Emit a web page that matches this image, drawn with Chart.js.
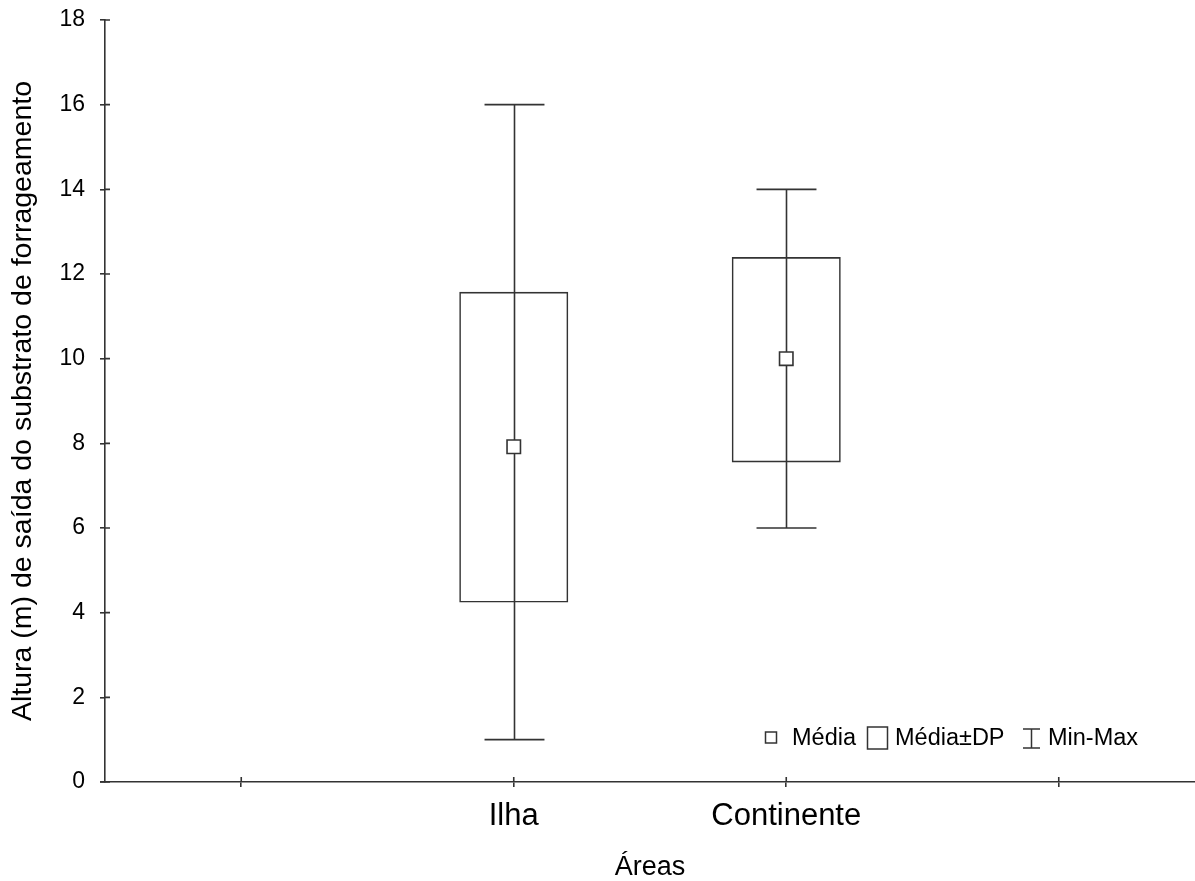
<!DOCTYPE html>
<html>
<head>
<meta charset="utf-8">
<script src="https://cdn.jsdelivr.net/npm/chart.js@4.4.1/dist/chart.umd.min.js"></script>
<style>
  html, body { margin: 0; padding: 0; background: #fff; }
  #wrap { width: 1195px; height: 881px; }
</style>
</head>
<body>
<div id="wrap"><canvas id="boxChart" width="1195" height="881"></canvas></div>
<script>
// areas (first and last slots are empty in the original figure)
const areas = ["", "Ilha", "Continente", ""];

const means = [null, 7.92, 10.0, null];
const sdLow = [null, 4.24, 7.55, null];
const sdHigh = [null, 11.58, 12.4, null];
const mins = [null, 1, 6, null];
const maxs = [null, 16, 14, null];

const yTicks = [0, 2, 4, 6, 8, 10, 12, 14, 16, 18];

const LINE = "#333";
const FONT = "'Liberation Sans', Arial, sans-serif";

const boxData =
  sdLow.map(
    (lo, i) => lo === null ? null : [lo, sdHigh[i]]
  );

// whiskers (min-max) under the boxes
const whiskerPlugin = {
  id: "whiskers",
  beforeDatasetsDraw(chart) {
    const ctx = chart.ctx;
    const xs = chart.scales.x;
    const ys = chart.scales.y;
    const half = xs.width / areas.length * 0.11;

    ctx.save();
    ctx.strokeStyle = LINE;
    ctx.lineWidth = 1.6;

    mins.forEach((mn, i) => {
      if (mn === null) return;
      const x = Math.round(xs.getPixelForValue(i)) + 0.5;
      const y1 = ys.getPixelForValue(mn);
      const y2 = ys.getPixelForValue(maxs[i]);
      ctx.beginPath();
      ctx.moveTo(x, y1);
      ctx.lineTo(x, y2);
      ctx.moveTo(x - half, y1);
      ctx.lineTo(x + half, y1);
      ctx.moveTo(x - half, y2);
      ctx.lineTo(x + half, y2);
      ctx.stroke();
    });
    ctx.restore();
  }
};

// inner half of the axis ticks + legend box
const extrasPlugin = {
  id: "extras",
  afterDraw(chart) {
    const ctx = chart.ctx;
    const xs = chart.scales.x;
    const ys = chart.scales.y;
    const area = chart.chartArea;

    ctx.save();
    ctx.strokeStyle = LINE;
    ctx.lineWidth = 1.6;
    ctx.beginPath();

    yTicks.forEach(v => {
      const y = ys.getPixelForValue(v);
      ctx.moveTo(area.left, y);
      ctx.lineTo(area.left + 5, y);
    });

    areas.forEach((a, i) => {
      const x = xs.getPixelForValue(i);
      ctx.moveTo(x, area.bottom);
      ctx.lineTo(x, area.bottom - 5);
    });

    // x axis sticks out a little to the left
    ctx.moveTo(area.left - 5, area.bottom);
    ctx.lineTo(area.left, area.bottom);
    ctx.stroke();

    // legend
    const ly = 738;
    ctx.lineWidth = 1.5;
    ctx.strokeRect(765.5, ly - 6, 11, 11);
    ctx.strokeRect(867.5, ly - 11, 20, 22);

    ctx.beginPath();
    ctx.moveTo(1031.5, ly - 9);
    ctx.lineTo(1031.5, ly + 10);
    ctx.moveTo(1023, ly - 9);
    ctx.lineTo(1040, ly - 9);
    ctx.moveTo(1023, ly + 10);
    ctx.lineTo(1040, ly + 10);
    ctx.stroke();

    ctx.fillStyle = "#000";
    ctx.font = "23.5px " + FONT;
    ctx.textBaseline = "middle";
    ctx.textAlign = "left";
    ctx.fillText("Média", 792, ly + 1);
    ctx.fillText("Média±DP", 895, ly + 1);
    ctx.fillText("Min-Max", 1048, ly + 1);

    ctx.restore();
  }
};

new Chart(
  document.getElementById("boxChart"),
  {
    type: "bar",
    data: {
      labels: areas,
      datasets: [
        {
          type: "line",
          label: "Média",
          data: means,
          showLine: false,
          pointStyle: "rect",
          pointRadius: 9.5,
          pointBackgroundColor: "#fff",
          pointBorderColor: LINE,
          pointBorderWidth: 1.6
        },
        {
          label: "Média±DP",
          data: boxData,
          backgroundColor: "rgba(0,0,0,0)",
          borderColor: LINE,
          borderWidth: 1.6,
          borderSkipped: false,
          categoryPercentage: 1,
          barPercentage: 0.4
        }
      ]
    },
    options: {
      responsive: false,
      animation: false,
      events: [],
      layout: {
        autoPadding: false,
        padding: { top: 20, right: 0, left: 0, bottom: 0 }
      },
      plugins: {
        legend: { display: false },
        tooltip: { enabled: false }
      },
      scales: {
        x: {
          type: "category",
          offset: true,
          afterFit(scale) {
            scale.height = 99;
            scale.paddingLeft = 0;
            scale.paddingRight = 0;
          },
          grid: {
            offset: false,
            drawOnChartArea: false,
            drawTicks: true,
            tickLength: 5,
            color: LINE,
            lineWidth: 1.6
          },
          border: { display: true, color: LINE, width: 1.6 },
          ticks: {
            color: "#000",
            padding: 11,
            maxRotation: 0,
            font: { family: FONT, size: 31 }
          },
          title: {
            display: true,
            text: "Áreas",
            color: "#000",
            padding: 0,
            font: { family: FONT, size: 27, lineHeight: 1 }
          }
        },
        y: {
          min: 0,
          max: 18,
          afterFit(scale) {
            scale.width = 105;
            scale.paddingTop = 0;
            scale.paddingBottom = 0;
          },
          afterBuildTicks(scale) {
            scale.ticks = yTicks.map(v => ({ value: v }));
          },
          grid: {
            drawOnChartArea: false,
            drawTicks: true,
            tickLength: 5,
            color: LINE,
            lineWidth: 1.6
          },
          border: { display: true, color: LINE, width: 1.6 },
          ticks: {
            color: "#000",
            padding: 15,
            font: { family: FONT, size: 23 }
          },
          title: {
            display: true,
            text: "Altura (m) de saída do substrato de forrageamento",
            color: "#000",
            padding: { top: 9 },
            font: { family: FONT, size: 28.5, lineHeight: 1 }
          }
        }
      }
    },
    plugins: [whiskerPlugin, extrasPlugin]
  }
);
</script>
</body>
</html>
